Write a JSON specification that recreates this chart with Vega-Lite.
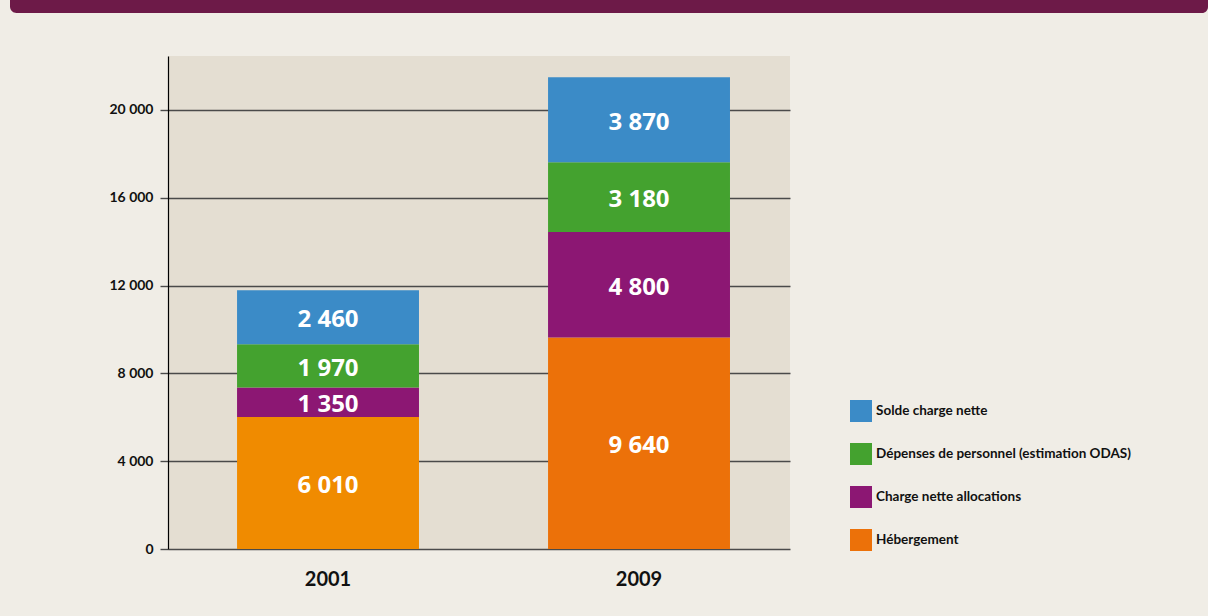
{
  "$schema": "https://vega.github.io/schema/vega-lite/v6.json",
  "background": "#f0ede6",
  "padding": {"left": 10, "top": 0, "right": 0, "bottom": 27},
  "spacing": 43,
  "resolve": {"legend": {"color": "independent"}, "scale": {"color": "independent"}},
  "config": {
    "locale": {"number": {"decimal": ",", "thousands": " ", "grouping": [3], "currency": ["", " €"]}},
    "font": "Lato"
  },
  "datasets": {
    "costs": [
      {"year": "2001", "cat": "Hébergement", "order": 1, "value": 6010},
      {"year": "2001", "cat": "Charge nette allocations", "order": 2, "value": 1350},
      {"year": "2001", "cat": "Dépenses de personnel (estimation ODAS)", "order": 3, "value": 1970},
      {"year": "2001", "cat": "Solde charge nette", "order": 4, "value": 2460},
      {"year": "2009", "cat": "Hébergement", "order": 1, "value": 9640},
      {"year": "2009", "cat": "Charge nette allocations", "order": 2, "value": 4800},
      {"year": "2009", "cat": "Dépenses de personnel (estimation ODAS)", "order": 3, "value": 3180},
      {"year": "2009", "cat": "Solde charge nette", "order": 4, "value": 3870}
    ],
    "header": [{"band": "header"}],
    "empty": []
  },
  "vconcat": [
    {
      "width": 1198,
      "height": 13,
      "data": {"name": "header"},
      "view": {"stroke": null},
      "mark": {"type": "rect", "color": "#6d1a48", "cornerRadiusBottomLeft": 12, "cornerRadiusBottomRight": 6},
      "encoding": {}
    },
    {
      "spacing": 0,
      "resolve": {"legend": {"color": "independent"}, "scale": {"color": "independent"}},
      "hconcat": [
        {
          "width": 1,
          "height": 493,
          "data": {"name": "empty"},
          "view": {"stroke": null, "fill": null},
          "mark": {"type": "rect"},
          "encoding": {}
        },
        {
          "width": 622,
          "height": 493,
          "data": {"name": "costs"},
          "view": {"fill": "#e4ded2", "stroke": null},
          "transform": [
            {"stack": "value", "groupby": ["year"], "sort": [{"field": "order", "order": "ascending"}], "as": ["v0", "v1"]},
            {"calculate": "(datum.v0 + datum.v1) / 2", "as": "mid"}
          ],
          "encoding": {
            "x": {
              "field": "year",
              "type": "nominal",
              "scale": {"paddingInner": 0.415, "paddingOuter": 0.2075, "align": 0.535},
              "axis": {
                "title": null,
                "domain": false,
                "ticks": false,
                "labelAngle": 0,
                "labelFont": "Lato",
                "labelFontSize": 20,
                "labelFontWeight": "bold",
                "labelColor": "#111111",
                "labelPadding": 20
              }
            }
          },
          "layer": [
            {
              "mark": {"type": "bar"},
              "encoding": {
                "y": {
                  "field": "v0",
                  "type": "quantitative",
                  "scale": {"domain": [0, 22460], "nice": false},
                  "axis": {
                    "title": null,
                    "values": [0, 4000, 8000, 12000, 16000, 20000],
                    "format": ",d",
                    "minExtent": 157,
                    "domainColor": "#000000",
                    "domainWidth": 1.2,
                    "tickColor": "#4a4a4a",
                    "tickSize": 8,
                    "tickWidth": 1.4,
                    "grid": true,
                    "gridColor": "#4a4a4a",
                    "gridWidth": 1.3,
                    "gridOpacity": 1,
                    "labelFont": "Lato",
                    "labelFontSize": 14,
                    "labelFontWeight": "bold",
                    "labelColor": "#111111",
                    "labelPadding": 7
                  }
                },
                "y2": {"field": "v1"},
                "color": {
                  "condition": {"test": "datum.year == '2001' && datum.cat == 'Hébergement'", "value": "#f08b00"},
                  "field": "cat",
                  "type": "nominal",
                  "scale": {
                    "domain": ["Solde charge nette", "Dépenses de personnel (estimation ODAS)", "Charge nette allocations", "Hébergement"],
                    "range": ["#3b8bc7", "#44a22f", "#8c1773", "#ec7109"]
                  },
                  "legend": {
                    "title": null,
                    "orient": "none",
                    "legendX": 682,
                    "legendY": 344,
                    "padding": 0,
                    "symbolType": "square",
                    "symbolSize": 484,
                    "symbolStrokeWidth": 0,
                    "symbolOpacity": 1,
                    "rowPadding": 21,
                    "labelOffset": 4,
                    "labelFont": "Lato",
                    "labelFontSize": 13.5,
                    "labelFontWeight": "bold",
                    "labelColor": "#111111",
                    "labelLimit": 400
                  }
                }
              }
            },
            {
              "mark": {"type": "text", "color": "#ffffff", "font": "Open Sans", "fontWeight": "bold", "fontSize": 24, "baseline": "middle", "dy": 3},
              "encoding": {
                "y": {"field": "mid", "type": "quantitative"},
                "text": {"field": "value", "type": "quantitative", "format": ",d"}
              }
            }
          ]
        }
      ]
    }
  ]
}
